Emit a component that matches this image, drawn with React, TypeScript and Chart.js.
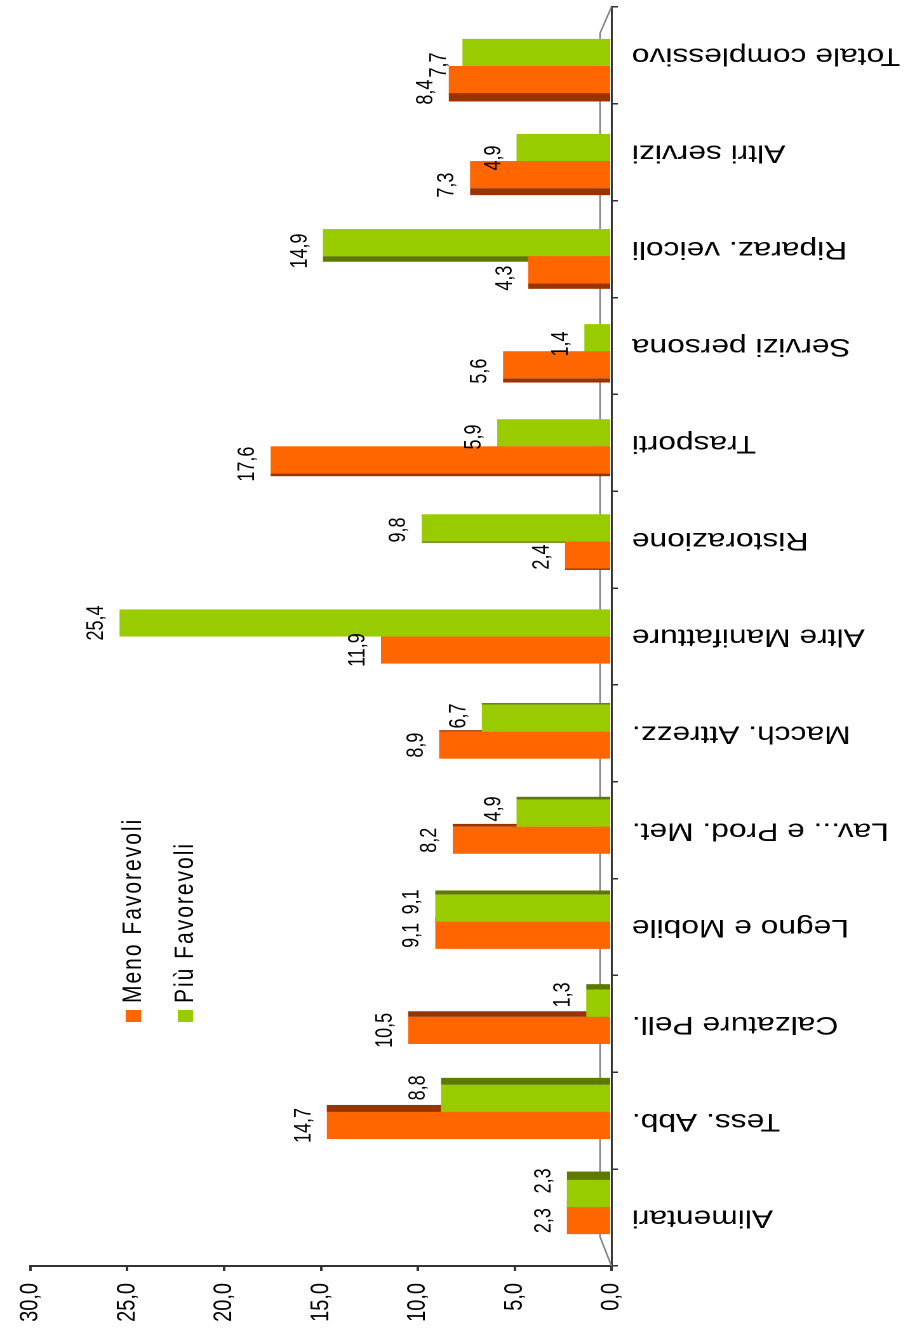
import { useEffect, useRef } from 'react';
import { Chart, registerables } from 'chart.js';

Chart.register(...registerables);

const categories = [
  'Alimentari',
  'Tess. Abb.',
  'Calzature Pell.',
  'Legno e Mobile',
  'Lav... e Prod. Met.',
  'Macch. Attrezz.',
  'Altre Manifatture',
  'Ristorazione',
  'Trasporti',
  'Servizi persona',
  'Riparaz. veicoli',
  'Altri servizi',
  'Totale complessivo',
];
const menoFavorevoli = [2.3, 14.7, 10.5, 9.1, 8.2, 8.9, 11.9, 2.4, 17.6, 5.6, 4.3, 7.3, 8.4];
const piuFavorevoli = [2.3, 8.8, 1.3, 9.1, 4.9, 6.7, 25.4, 9.8, 5.9, 1.4, 14.9, 4.9, 7.7];
const yTicks = [0, 5, 10, 15, 20, 25, 30];
const seriesNames = ['Meno Favorevoli', 'Più Favorevoli'];

const W = 1332;
const H = 712;
const K = 1.27;
const FONT = '"Liberation Sans", Arial, sans-serif';
const COLORS = ['#FF6600', '#99CC00'];
const DARK = ['#993300', '#5C7A00'];
const CENTER = 6;

const depthOf = (i: number) => Math.abs(i - CENTER) * 1.4;
const fmt = (v: number) => v.toFixed(1).replace('.', ',');

const floorPlugin = {
  id: 'floor',
  beforeDatasetsDraw(chart: any) {
    const { ctx, chartArea } = chart;
    const back = chartArea.bottom - 9;
    ctx.save();
    ctx.strokeStyle = '#808080';
    ctx.lineWidth = 1.2;
    ctx.beginPath();
    ctx.moveTo(chartArea.left, chartArea.bottom);
    ctx.lineTo(chartArea.left + 29, back);
    ctx.lineTo(chartArea.right - 26, back);
    ctx.lineTo(chartArea.right, chartArea.bottom);
    ctx.stroke();
    ctx.restore();
  },
};

const depthPlugin = {
  id: 'depth',
  beforeDatasetsDraw(chart: any) {
    const ctx = chart.ctx;
    ctx.save();
    chart.data.datasets.forEach((_ds: any, di: number) => {
      const meta = chart.getDatasetMeta(di);
      meta.data.forEach((bar: any, i: number) => {
        const d = depthOf(i);
        if (!d) return;
        const { x, y, base, width } = bar.getProps(['x', 'y', 'base', 'width'], true);
        ctx.fillStyle = DARK[di];
        const left = i < CENTER ? x + width / 2 : x - width / 2 - d;
        ctx.fillRect(left, y, d, base - y);
      });
    });
    ctx.restore();
  },
};

const labelPlugin = {
  id: 'valueLabels',
  afterDatasetsDraw(chart: any) {
    const ctx = chart.ctx;
    ctx.save();
    ctx.font = `18px ${FONT}`;
    ctx.fillStyle = '#000';
    ctx.textAlign = 'center';
    ctx.textBaseline = 'alphabetic';
    chart.data.datasets.forEach((ds: any, di: number) => {
      const meta = chart.getDatasetMeta(di);
      meta.data.forEach((bar: any, i: number) => {
        const { x, y } = bar.getProps(['x', 'y'], true);
        const d = depthOf(i);
        let shift = 0;
        if (i < CENTER) shift = di === 1 ? 1.5 * d : 0;
        else if (i > CENTER) shift = -1.5 * d;
        ctx.fillText(fmt(ds.data[i].y), x + shift, y - 13);
      });
    });
    ctx.restore();
  },
};

const legendPlugin = {
  id: 'customLegend',
  afterDraw(chart: any) {
    const ctx = chart.ctx;
    ctx.save();
    ctx.font = `21px ${FONT}`;
    (ctx as any).letterSpacing = '2px';
    ctx.textAlign = 'left';
    ctx.textBaseline = 'middle';
    const rows = [105, 146];
    seriesNames.forEach((name, i) => {
      ctx.fillStyle = COLORS[i];
      ctx.fillRect(310, rows[i] - 6, 12, 12);
      ctx.fillStyle = '#000';
      ctx.fillText(name, 329, rows[i]);
    });
    ctx.restore();
  },
};

export default function App() {
  const ref = useRef<HTMLCanvasElement | null>(null);

  useEffect(() => {
    if (!ref.current) return;
    const chart = new Chart(ref.current, {
      type: 'bar',
      data: {
        labels: categories,
        datasets: [
          {
            label: seriesNames[0],
            data: menoFavorevoli.map((v, i) => ({ x: i, y: v })),
            backgroundColor: COLORS[0],
            borderWidth: 0,
            xAxisID: 'xb',
          },
          {
            label: seriesNames[1],
            data: piuFavorevoli.map((v, i) => ({ x: i, y: v })),
            backgroundColor: COLORS[1],
            borderWidth: 0,
            xAxisID: 'xb',
          },
        ],
      } as any,
      options: {
        responsive: false,
        animation: false,
        devicePixelRatio: 2,
        layout: { padding: { top: 21, right: 7, left: 0, bottom: 0 } },
        datasets: { bar: { categoryPercentage: 0.57, barPercentage: 1 } },
        plugins: {
          legend: { display: false },
          tooltip: { enabled: false },
        },
        scales: {
          x: {
            type: 'category',
            position: 'bottom',
            offset: true,
            weight: 1,
            grid: { drawOnChartArea: false, offset: true, tickLength: 5, color: '#333', lineWidth: 1.5 },
            border: { display: true, color: '#333', width: 1.5 },
            ticks: {
              autoSkip: false,
              minRotation: 90,
              maxRotation: 90,
              padding: 11,
              color: '#000',
              font: { family: FONT, size: 25 },
            },
            afterFit: (scale: any) => {
              scale.height = H - 481.5;
            },
          },
          xb: {
            type: 'linear',
            position: 'bottom',
            display: true,
            weight: 0,
            offset: false,
            bounds: 'data',
            min: -0.62,
            max: 12.62,
            grid: { display: false, drawTicks: false },
            border: { display: false },
            ticks: { display: false },
            afterFit: (scale: any) => {
              scale.height = 0;
            },
          },
          y: {
            min: 0,
            max: 30,
            grid: { drawOnChartArea: false, tickLength: 5, color: '#333', lineWidth: 2 },
            border: { display: true, color: '#333', width: 2 },
            afterBuildTicks: (scale: any) => {
              scale.ticks = yTicks.map((v) => ({ value: v }));
            },
            ticks: {
              padding: 12,
              color: '#000',
              font: { family: FONT, size: 20 },
              callback: (v: any) => fmt(Number(v)),
            },
            afterFit: (scale: any) => {
              scale.width = 66;
            },
          },
        },
      } as any,
      plugins: [floorPlugin, depthPlugin, labelPlugin, legendPlugin],
    });
    return () => chart.destroy();
  }, []);

  return (
    <div
      style={{
        position: 'absolute',
        left: 0,
        top: 0,
        width: 904,
        height: 1332,
        overflow: 'hidden',
        background: '#fff',
      }}
    >
      <div
        style={{
          position: 'absolute',
          left: 0,
          top: 0,
          width: W,
          height: H,
          transformOrigin: '0 0',
          transform: `translateY(${W}px) rotate(-90deg) scaleY(${K})`,
        }}
      >
        <canvas ref={ref} width={W} height={H} style={{ display: 'block' }} />
      </div>
    </div>
  );
}
